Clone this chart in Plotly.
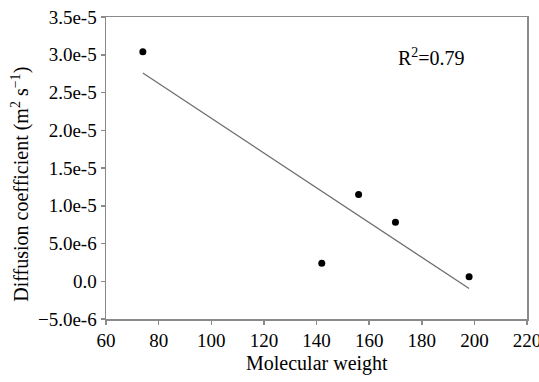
import numpy as np
import plotly.graph_objects as go

mol_weight = [74, 142, 156, 170, 198]
diff_coef = [3.04e-5, 2.4e-6, 1.15e-5, 7.8e-6, 6e-7]
r2_label = "R<sup>2</sup>=0.79"
x_title = "Molecular weight"
y_title = "Diffusion coefficient (m<sup>2</sup> s<sup>−1</sup>)"

y_tickvals = [-5e-6, 0, 5e-6, 1e-5, 1.5e-5, 2e-5, 2.5e-5, 3e-5, 3.5e-5]
y_ticktext = ["−5.0e-6", "0.0", "5.0e-6", "1.0e-5", "1.5e-5", "2.0e-5", "2.5e-5", "3.0e-5", "3.5e-5"]
x_tickvals = [60, 80, 100, 120, 140, 160, 180, 200, 220]

slope, intercept = np.polyfit(mol_weight, diff_coef, 1)
fit_x = [min(mol_weight), max(mol_weight)]
fit_y = [slope * v + intercept for v in fit_x]

font = "Liberation Serif, Times New Roman, serif"

fig = go.Figure()
fig.add_trace(go.Scatter(x=fit_x, y=fit_y, mode="lines",
                         line=dict(color="#6e6e6e", width=1.3), showlegend=False))
fig.add_trace(go.Scatter(x=mol_weight, y=diff_coef, mode="markers",
                         marker=dict(color="black", size=7), showlegend=False))

axis_common = dict(showgrid=False, zeroline=False, showline=True, linecolor="#8a8a8a",
                   linewidth=1.5, mirror=True, ticks="outside", ticklen=4,
                   tickcolor="#8a8a8a", tickwidth=1.5, automargin=False,
                   ticklabeloverflow="allow",
                   tickfont=dict(family=font, size=19, color="black"))

fig.update_xaxes(range=[60, 220], tickvals=x_tickvals, **axis_common)
fig.update_yaxes(range=[-5e-6, 3.5e-5], tickvals=y_tickvals, ticktext=y_ticktext, **axis_common)

fig.add_annotation(x=0.5, y=-0.149, xref="paper", yref="paper", text=x_title,
                   showarrow=False, xanchor="center", yanchor="middle",
                   font=dict(family=font, size=20, color="black"))
fig.add_annotation(x=-0.204, y=0.445, xref="paper", yref="paper", text=y_title,
                   showarrow=False, textangle=-90, xanchor="center", yanchor="middle",
                   font=dict(family=font, size=20, color="black"))
fig.add_annotation(x=0.772, y=0.867, xref="paper", yref="paper", text=r2_label,
                   showarrow=False, xanchor="center", yanchor="middle",
                   font=dict(family=font, size=20, color="black"))

fig.update_layout(width=539, height=382, margin=dict(l=106, r=12, t=17, b=63),
                  plot_bgcolor="white", paper_bgcolor="white", hovermode=False)

fig.write_html("out.html",
               config={"displayModeBar": False, "staticPlot": True},
               post_script="document.body.style.margin='0';"
                           "document.documentElement.style.overflow='hidden';"
                           "document.body.style.overflow='hidden';")
